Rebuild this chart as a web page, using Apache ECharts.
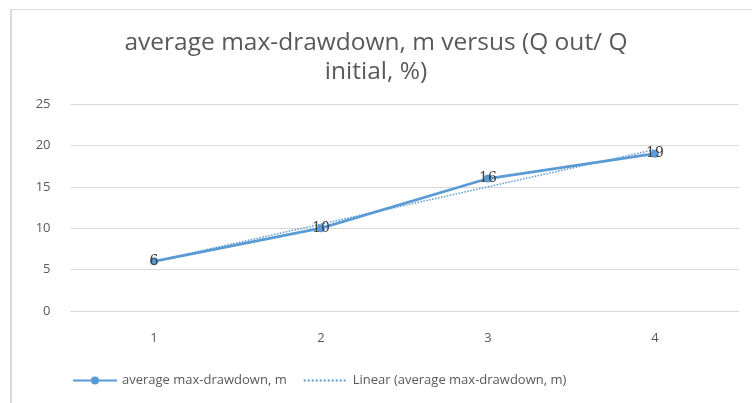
<!DOCTYPE html>
<html>
<head>
<meta charset="utf-8">
<script src="https://cdn.jsdelivr.net/npm/echarts@6/dist/echarts.min.js"></script>
<style>
html,body{margin:0;padding:0;background:#fff;}
#frame{position:absolute;left:10px;top:9px;width:742px;height:394px;border-left:2px solid #d9d9d9;border-top:1px solid #d9d9d9;box-sizing:border-box;}
#chart{position:absolute;left:0;top:0;width:752px;height:403px;}
</style>
</head>
<body>
<div id="frame"></div>
<div id="chart"></div>
<script>
const titleText = 'average max-drawdown, m versus (Q out/ Q\ninitial, %)';
const categories = ['1', '2', '3', '4'];
const drawdown = [6, 10, 16, 19];
const trend = [6, 10.5, 15, 19.5];
const seriesName = 'average max-drawdown, m';
const trendName = 'Linear (average max-drawdown, m)';
const yTicks = { min: 0, max: 25, interval: 5 };

const FONT = '"Open Sans", "Noto Sans", sans-serif';
const chart = echarts.init(document.getElementById('chart'), null, { renderer: 'canvas' });
chart.setOption({
  backgroundColor: 'transparent',
  animation: false,
  title: {
    text: titleText,
    left: 'center',
    top: 24,
    textStyle: { fontFamily: FONT, fontSize: 24.5, fontWeight: 'normal', color: '#595959', lineHeight: 29 }
  },
  grid: { left: 70.5, right: 13.5, top: 104, bottom: 92, containLabel: false },
  legend: {
    bottom: 11,
    left: 67,
    itemGap: 16,
    itemWidth: 44,
    itemHeight: 10,
    textStyle: { fontFamily: FONT, fontSize: 13, color: '#595959' },
    data: [
      { name: seriesName },
      { name: trendName, itemStyle: { opacity: 0 } }
    ]
  },
  xAxis: {
    type: 'category',
    data: categories,
    boundaryGap: true,
    axisLine: { show: true, lineStyle: { color: '#d9d9d9', width: 1 } },
    axisTick: { show: false },
    axisLabel: { fontFamily: FONT, fontSize: 13, color: '#595959', margin: 21 }
  },
  yAxis: {
    type: 'value',
    min: yTicks.min,
    max: yTicks.max,
    interval: yTicks.interval,
    axisLine: { show: false },
    axisTick: { show: false },
    axisLabel: { fontFamily: FONT, fontSize: 13, color: '#595959', margin: 20 },
    splitLine: { lineStyle: { color: '#d9d9d9', width: 1 } }
  },
  series: [
    {
      name: trendName,
      type: 'line',
      data: trend,
      symbol: 'none',
      lineStyle: { color: '#5b9bd5', width: 1.5, type: 'dotted' },
      itemStyle: { color: '#5b9bd5' },
      z: 1
    },
    {
      name: seriesName,
      type: 'line',
      data: drawdown,
      symbol: 'circle',
      symbolSize: 8,
      lineStyle: { color: '#5b9bd5', width: 2.8 },
      itemStyle: { color: '#5b9bd5' },
      label: {
        show: true,
        position: 'inside',
        fontFamily: '"DejaVu Serif", serif',
        fontSize: 14,
        color: '#404040'
      },
      z: 2
    }
  ]
});
</script>
</body>
</html>
